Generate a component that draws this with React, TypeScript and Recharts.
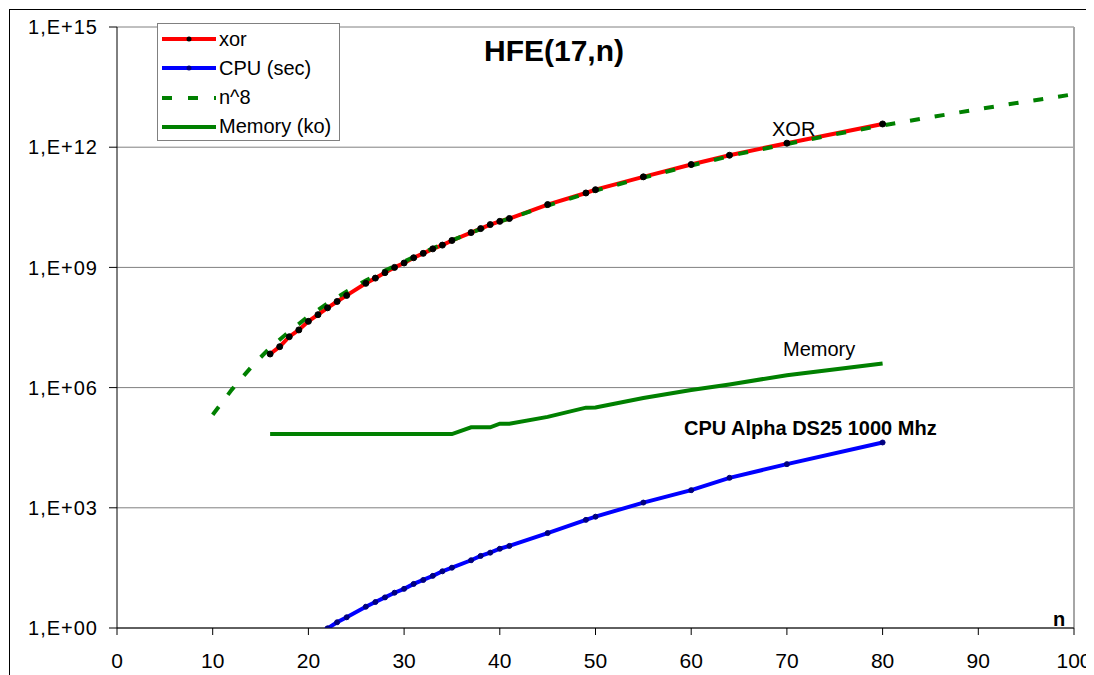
import { LineChart, Line, XAxis, YAxis, CartesianGrid, ReferenceLine } from "recharts";

const FONT = '"Liberation Sans", Arial, sans-serif';

// problem sizes n where xor / memory were measured
const nPoints = [16, 17, 18, 19, 20, 21, 22, 23, 24, 26, 27, 28, 29, 30, 31, 32, 33, 34, 35, 37, 38, 39, 40, 41, 45, 49, 50, 55, 60, 64, 70, 80];

const xorValues = [6.9e6, 1.05e7, 1.86e7, 2.75e7, 4.5e7, 6.6e7, 9.8e7, 1.41e8, 2.0e8, 4.0e8, 5.4e8, 7.4e8, 1.0e9, 1.29e9, 1.74e9, 2.24e9, 2.9e9, 3.6e9, 4.7e9, 7.4e9, 9.3e9, 1.17e10, 1.41e10, 1.66e10, 3.7e10, 7.2e10, 8.7e10, 1.82e11, 3.7e11, 6.3e11, 1.26e12, 3.8e12];

const memoryValues = [6.9e4, 6.9e4, 6.9e4, 6.9e4, 6.9e4, 6.9e4, 6.9e4, 6.9e4, 6.9e4, 6.9e4, 6.9e4, 6.9e4, 6.9e4, 6.9e4, 6.9e4, 6.9e4, 6.9e4, 6.9e4, 6.9e4, 1.02e5, 1.02e5, 1.02e5, 1.26e5, 1.26e5, 1.86e5, 3.16e5, 3.2e5, 5.5e5, 8.7e5, 1.2e6, 2.04e6, 4.0e6];

// cpu time (sec) — points below 1 sec fall under the axis
const cpuN = [21, 22, 23, 24, 26, 27, 28, 29, 30, 31, 32, 33, 34, 35, 37, 38, 39, 40, 41, 45, 49, 50, 55, 60, 64, 70, 80];
const cpuValues = [0.68, 0.98, 1.39, 1.85, 3.4, 4.45, 5.8, 7.6, 9.5, 12.6, 15.8, 20, 26, 32, 49, 63, 76, 95, 112, 234, 500, 600, 1350, 2750, 5600, 12300, 42700];

// n^8 reference curve
const n8N = [10, 12, 14, 16, 18, 20, 22, 24, 26, 28, 30, 33, 36, 40, 45, 50, 55, 60, 65, 70, 75, 80, 85, 90, 95, 100];
const n8Values = [2.1e5, 8.9e5, 3.2e6, 1.0e7, 2.5e7, 6.0e7, 1.26e8, 2.5e8, 4.7e8, 8.3e8, 1.4e9, 3.0e9, 5.9e9, 1.38e10, 3.5e10, 8.3e10, 1.74e11, 3.5e11, 6.8e11, 1.2e12, 2.1e12, 3.5e12, 5.6e12, 8.9e12, 1.38e13, 2.1e13];

const xTicks = [0, 10, 20, 30, 40, 50, 60, 70, 80, 90, 100];
const yTicks = [1, 1e3, 1e6, 1e9, 1e12, 1e15];

const xorData = nPoints.map((n, i) => ({ n, v: xorValues[i] }));
const memData = nPoints.map((n, i) => ({ n, v: memoryValues[i] }));
const cpuData = cpuN.map((n, i) => ({ n, v: cpuValues[i] }));
const n8Data = n8N.map((n, i) => ({ n, v: n8Values[i] }));

const fmtY = (v: number) => {
  const e = Math.round(Math.log10(v));
  return "1,E+" + String(e).padStart(2, "0");
};

const legendItems = [
  { label: "xor", color: "#ff0000", dot: "#000000" },
  { label: "CPU (sec)", color: "#0000ff", dot: "#000080" },
  { label: "n^8", color: "#008000", dash: "10 16" },
  { label: "Memory (ko)", color: "#008000" },
];

function ChartLegend() {
  return (
    <div
      style={{
        position: "absolute",
        left: 147,
        top: 13,
        width: 181,
        height: 116,
        background: "#fff",
        border: "1px solid #808080",
      }}
    >
      {legendItems.map((it, i) => (
        <div
          key={it.label}
          style={{
            position: "absolute",
            left: 0,
            top: 1 + i * 29.3,
            height: 28,
            display: "flex",
            alignItems: "center",
          }}
        >
          <svg width={60} height={28} style={{ display: "block" }}>
            <line
              x1={4}
              x2={58}
              y1={14}
              y2={14}
              stroke={it.color}
              strokeWidth={4}
              strokeDasharray={it.dash}
            />
            {it.dot && <circle cx={31} cy={14} r={2.5} fill={it.dot} />}
          </svg>
          <span style={{ fontSize: 20, color: "#000", marginLeft: 1, whiteSpace: "nowrap" }}>
            {it.label}
          </span>
        </div>
      ))}
    </div>
  );
}

export default function App() {
  return (
    <div
      style={{
        position: "relative",
        margin: 1,
        width: 1084,
        height: 665,
        borderLeft: "1px solid #000",
        borderTop: "1px solid #000",
        background: "#fff",
        fontFamily: FONT,
        overflow: "hidden",
      }}
    >
      <LineChart
        width={1084}
        height={665}
        margin={{ top: 17, right: 20, bottom: 17, left: 0 }}
      >
        <CartesianGrid vertical={false} stroke="#808080" strokeWidth={1} />
        <XAxis
          type="number"
          dataKey="n"
          domain={[0, 100]}
          ticks={xTicks}
          allowDataOverflow
          height={30}
          tickSize={7}
          tickMargin={18}
          stroke="#000"
          tick={{ fontSize: 21, fill: "#000", fontFamily: FONT }}
        />
        <YAxis
          type="number"
          dataKey="v"
          scale="log"
          domain={[1, 1e15]}
          ticks={yTicks}
          allowDataOverflow
          width={107}
          tickSize={8}
          tickMargin={11}
          stroke="#000"
          tickFormatter={fmtY}
          tick={{ fontSize: 20, fill: "#000", fontFamily: FONT, letterSpacing: 1 }}
        />
        <ReferenceLine x={100} stroke="#a6a6a6" strokeWidth={2} />
        <Line
          data={memData}
          dataKey="v"
          type="linear"
          stroke="#008000"
          strokeWidth={4}
          dot={false}
          isAnimationActive={false}
        />
        <Line
          data={cpuData}
          dataKey="v"
          type="linear"
          stroke="#0000ff"
          strokeWidth={4}
          dot={{ r: 2.5, fill: "#000080", stroke: "#000080", strokeWidth: 1 }}
          isAnimationActive={false}
        />
        <Line
          data={xorData}
          dataKey="v"
          type="linear"
          stroke="#ff0000"
          strokeWidth={4}
          dot={{ r: 3, fill: "#000", stroke: "#000", strokeWidth: 1 }}
          isAnimationActive={false}
        />
        <Line
          data={n8Data}
          dataKey="v"
          type="linear"
          stroke="#008000"
          strokeWidth={4}
          strokeDasharray="10 15"
          dot={false}
          isAnimationActive={false}
        />
      </LineChart>
      <svg
        width={1084}
        height={665}
        style={{ position: "absolute", left: 0, top: 0, pointerEvents: "none" }}
      >
        <text x={544} y={51} textAnchor="middle" fontSize={30} fontWeight="bold" fontFamily={FONT}>
          HFE(17,n)
        </text>
        <text x={762} y={126} fontSize={20} fontFamily={FONT}>
          XOR
        </text>
        <text x={773} y={346} fontSize={20} fontFamily={FONT}>
          Memory
        </text>
        <text x={674} y={425} fontSize={20} fontWeight="bold" fontFamily={FONT}>
          CPU Alpha DS25 1000 Mhz
        </text>
        <text x={1043} y={616} fontSize={20} fontWeight="bold" fontFamily={FONT}>
          n
        </text>
      </svg>
      <ChartLegend />
    </div>
  );
}
